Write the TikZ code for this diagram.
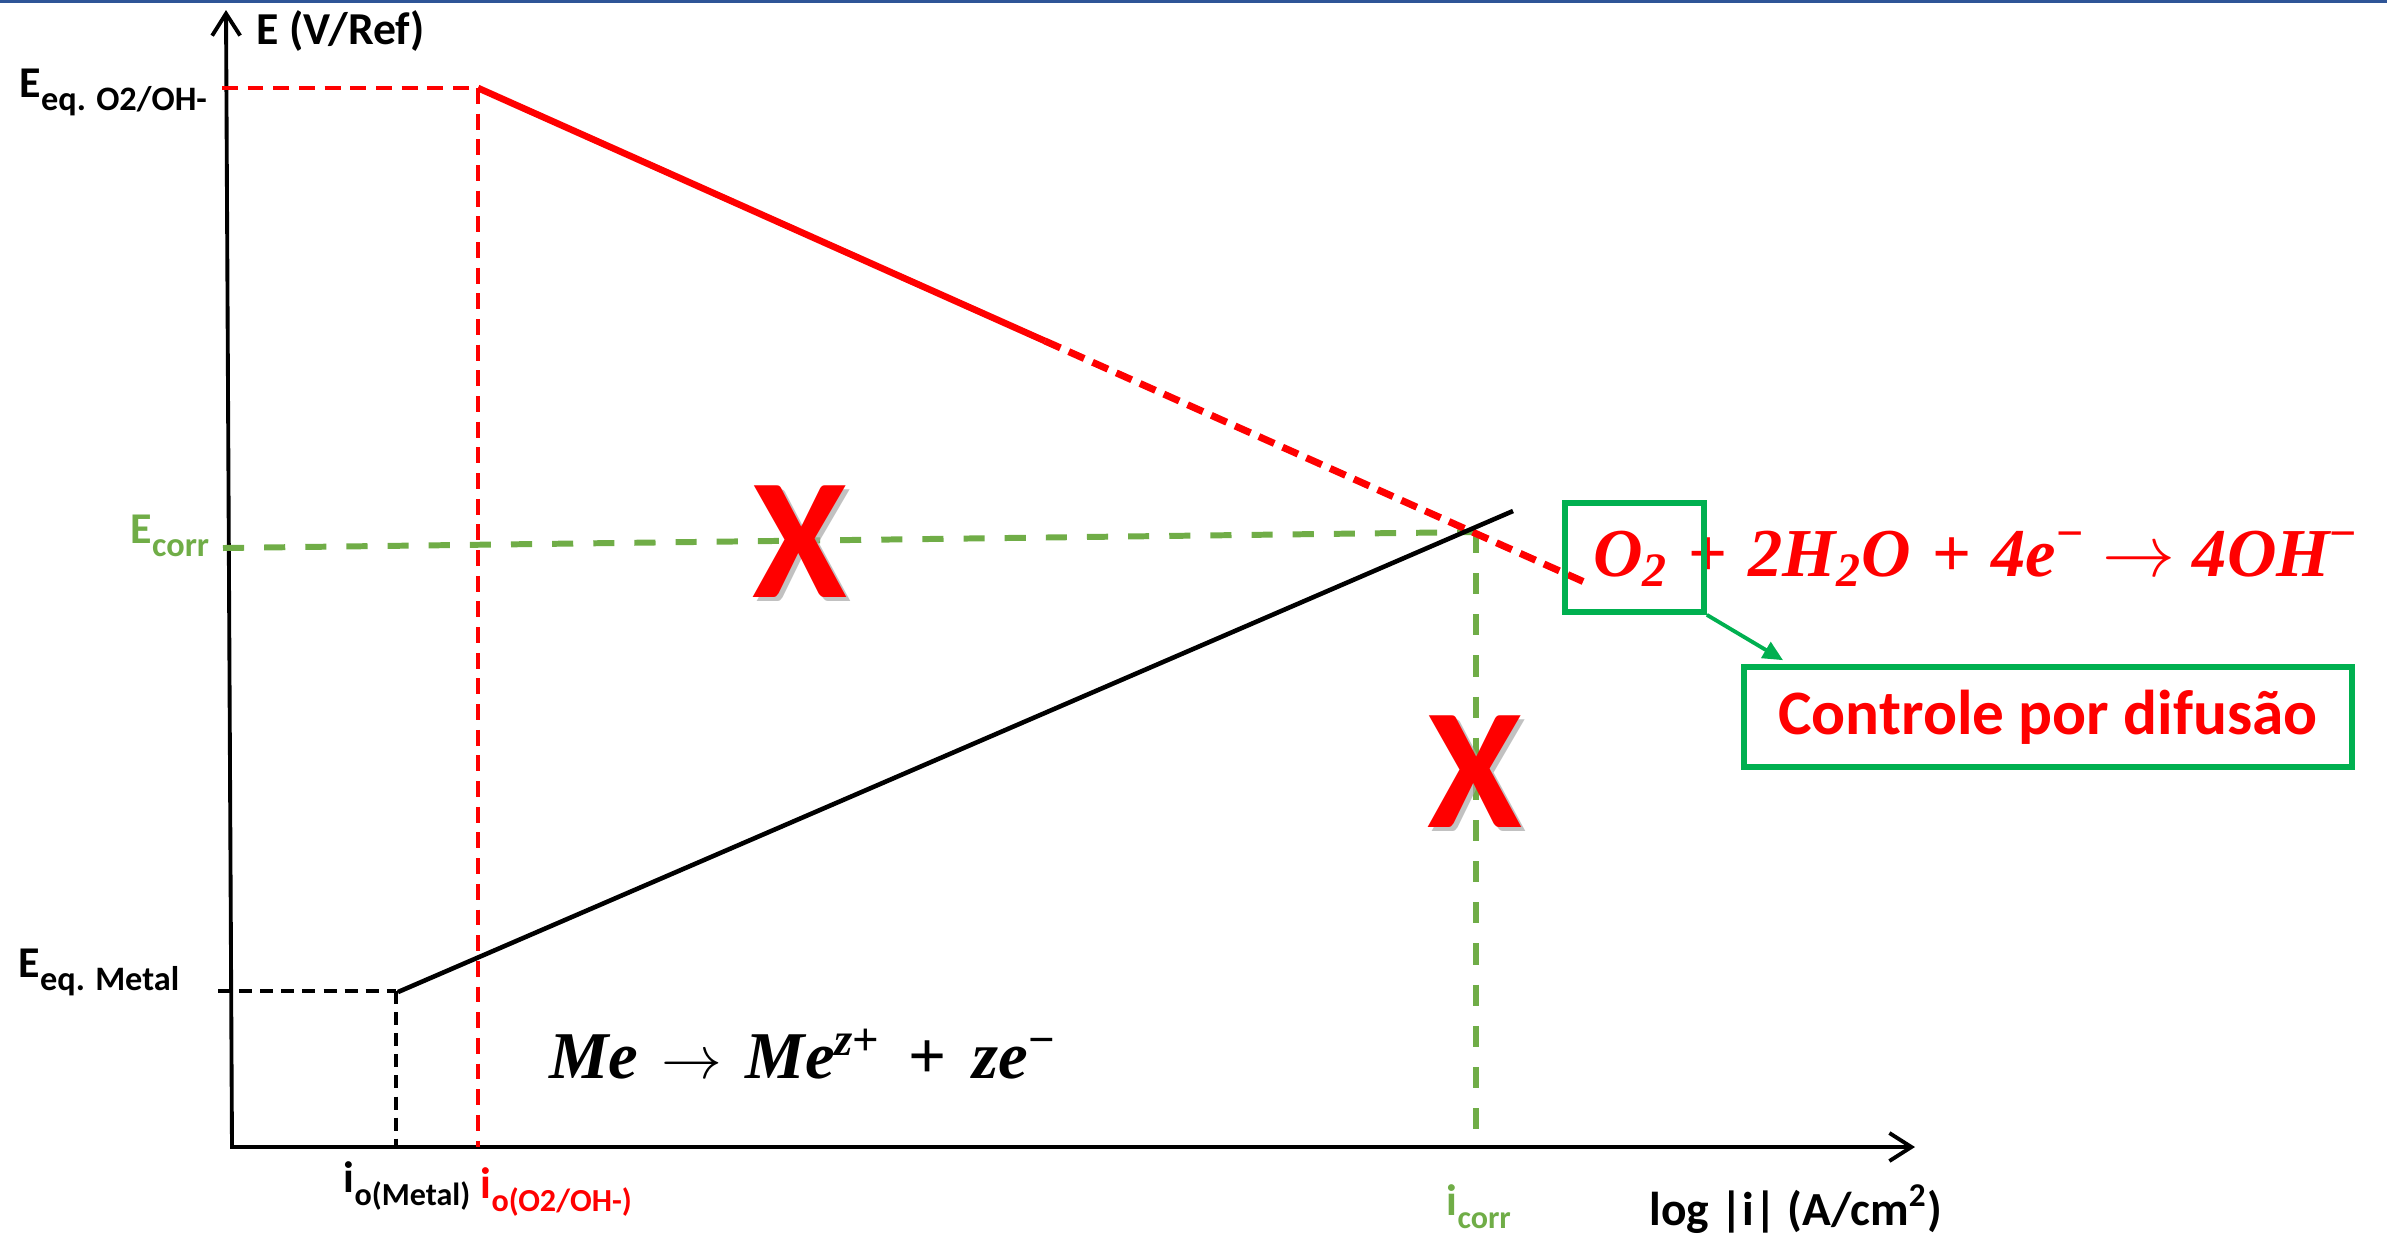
\documentclass[tikz,border=0pt]{standalone}
\usepackage{fontspec}
\setmainfont{Carlito}
\newfontfamily\eqfont{Liberation Serif}
\usetikzlibrary{arrows.meta}
\definecolor{myred}{HTML}{FF0000}
\definecolor{lgreen}{HTML}{70AD47}
\definecolor{bgreen}{HTML}{00B050}
\definecolor{topblue}{HTML}{2F5597}
\newcommand{\lsub}[1]{\raisebox{-0.3em}{\scalebox{0.78}{#1}}}
\newcommand{\isub}[1]{\raisebox{-0.3em}{\scalebox{0.73}{#1}}}
\newcommand{\up}[1]{\textup{#1}}
\newcommand{\arr}{\hspace{0.35em}$\rightarrow$\hspace{0.35em}}
\newcommand{\pl}{\hspace{0.4em}\up{+}\hspace{0.4em}}
\newcommand{\arrb}{\hspace{0.25em}$\rightarrow$\hspace{0.25em}}
\newcommand{\plb}{\hspace{0.3em}\up{+}\hspace{0.3em}}
\newcommand{\MeEqText}{Me\arr Me\textsuperscript{z\up{+}}\pl ze\textsuperscript{\up{−}}}
\newcommand{\OxEqText}{O\textsubscript{2}\plb 2H\textsubscript{2}O\plb 4e\textsuperscript{\up{−}}\arrb 4OH\textsuperscript{\up{−}}}
\begin{document}
\begin{tikzpicture}[x=0.01cm,y=-0.01cm,
  lbl/.style={font=\fontsize{12.5}{15}\selectfont\bfseries, inner sep=0, anchor=base west},
  axis/.style={line width=1.1pt, -{Straight Barb[length=0.22cm,width=0.28cm,line width=1.1pt]}},
  rthin/.style={myred, line width=1.1pt, dash pattern=on 4.5pt off 2.8pt},
  kthin/.style={black, line width=1.1pt, dash pattern=on 3.7pt off 2.3pt},
  gdash/.style={lgreen, line width=1.7pt, dash pattern=on 6pt off 5.7pt},
  rthick/.style={myred, line width=2pt, dash pattern=on 4.8pt off 2.6pt},
  bigx/.style={font=\fontsize{49}{50}\selectfont\bfseries, inner sep=0},
  gbox/.style={draw=bgreen, line width=1.6pt, inner sep=0},
  eq/.style={inner sep=0, anchor=base}
]
\useasboundingbox (0,0) rectangle (2387,1235);
\fill[topblue] (0,0) rectangle (2387,3);

% key points
\coordinate (O) at (232,1147);
\coordinate (Ytop) at (226,10);
\coordinate (Xend) at (1915,1147);
\coordinate (Xstart) at (230,1147);
\coordinate (Rstart) at (478,88);
\coordinate (Rmid) at (1045,341);
\coordinate (Rend) at (1591,585);
\coordinate (RaxL) at (222,88);
\coordinate (Rbot) at (478,1147);
\coordinate (Kstart) at (398,992);
\coordinate (Kend) at (1513,511);
\coordinate (KaxL) at (218,991);
\coordinate (Kcorner) at (396,991);
\coordinate (Kbot) at (396,1147);
\coordinate (Gpt) at (1476,532);
\coordinate (GaxL) at (223,548);
\coordinate (Gbot) at (1476,1147);

% axes
\draw[axis] (O) -- (Ytop);
\draw[axis] (Xstart) -- (Xend);

% guide lines
\draw[rthin] (RaxL) -- (Rstart);
\draw[rthin] (Rstart) -- (Rbot);
\draw[kthin] (KaxL) -- (Kcorner);
\draw[kthin] (Kcorner) -- (Kbot);
\draw[gdash] (GaxL) -- (Gpt);
\draw[gdash] (Gpt) -- (Gbot);

% curves
\draw[myred, line width=1.9pt] (Rstart) -- (Rmid);
\draw[rthick] (Rmid) -- (Rend);
\draw[black, line width=1.3pt] (Kstart) -- (Kend);

% axis labels
\node[lbl, font=\fontsize{13}{15}\selectfont\bfseries] (ylab) at (256,44) {E (V/Ref)};
\node[lbl, font=\fontsize{13.5}{15}\selectfont\bfseries] (xlab) at (1649,1225) {log \textbar i\textbar{} (A/cm\textsuperscript{2})};
\node[lbl] (eo2) at (19,97) {E\lsub{eq. O2/OH-}};
\node[lbl, text=lgreen] (ecorr) at (130,543) {E\lsub{corr}};
\node[lbl] (emet) at (18,977) {E\lsub{eq. Metal}};
\node[lbl] (iomet) at (343,1192) {i\isub{o(Metal)}};
\node[lbl, text=myred] (ioo2) at (480,1198) {i\isub{o(O2/OH-)}};
\node[lbl, text=lgreen] (icorr) at (1446,1215) {i\isub{corr}};

% X marks
\node[bigx, text=black!35, opacity=0.7] (x1s) at (804,546) {X};
\node[bigx, text=myred] (x1) at (800,542) {X};
\node[bigx, text=black!35, opacity=0.7] (x2s) at (1479,776) {X};
\node[bigx, text=myred] (x2) at (1475,772) {X};

% equations
\node[eq, font=\fontsize{19}{22}\selectfont\eqfont\bfseries\itshape] (meeq) at (803,1078) {\MeEqText};
\node[eq, text=myred, font=\fontsize{19.5}{22}\selectfont\eqfont\bfseries\itshape] (o2eq) at (1976,576) {\OxEqText};

% boxes
\node[gbox, minimum width=1.39cm, minimum height=1.09cm] (o2box) at (1634.5,557.5) {};
\node[gbox, minimum width=6.08cm, minimum height=1.0cm, text=myred, font=\fontsize{18}{20}\selectfont\bfseries] (difbox) at (2048,717) {Controle por difus\~ao};
\draw[bgreen, line width=1.1pt, -{Triangle[length=0.2cm,width=0.18cm]}] (o2box.south east) -- ([xshift=0.42cm,yshift=0.04cm]difbox.north west);
\end{tikzpicture}
\end{document}
